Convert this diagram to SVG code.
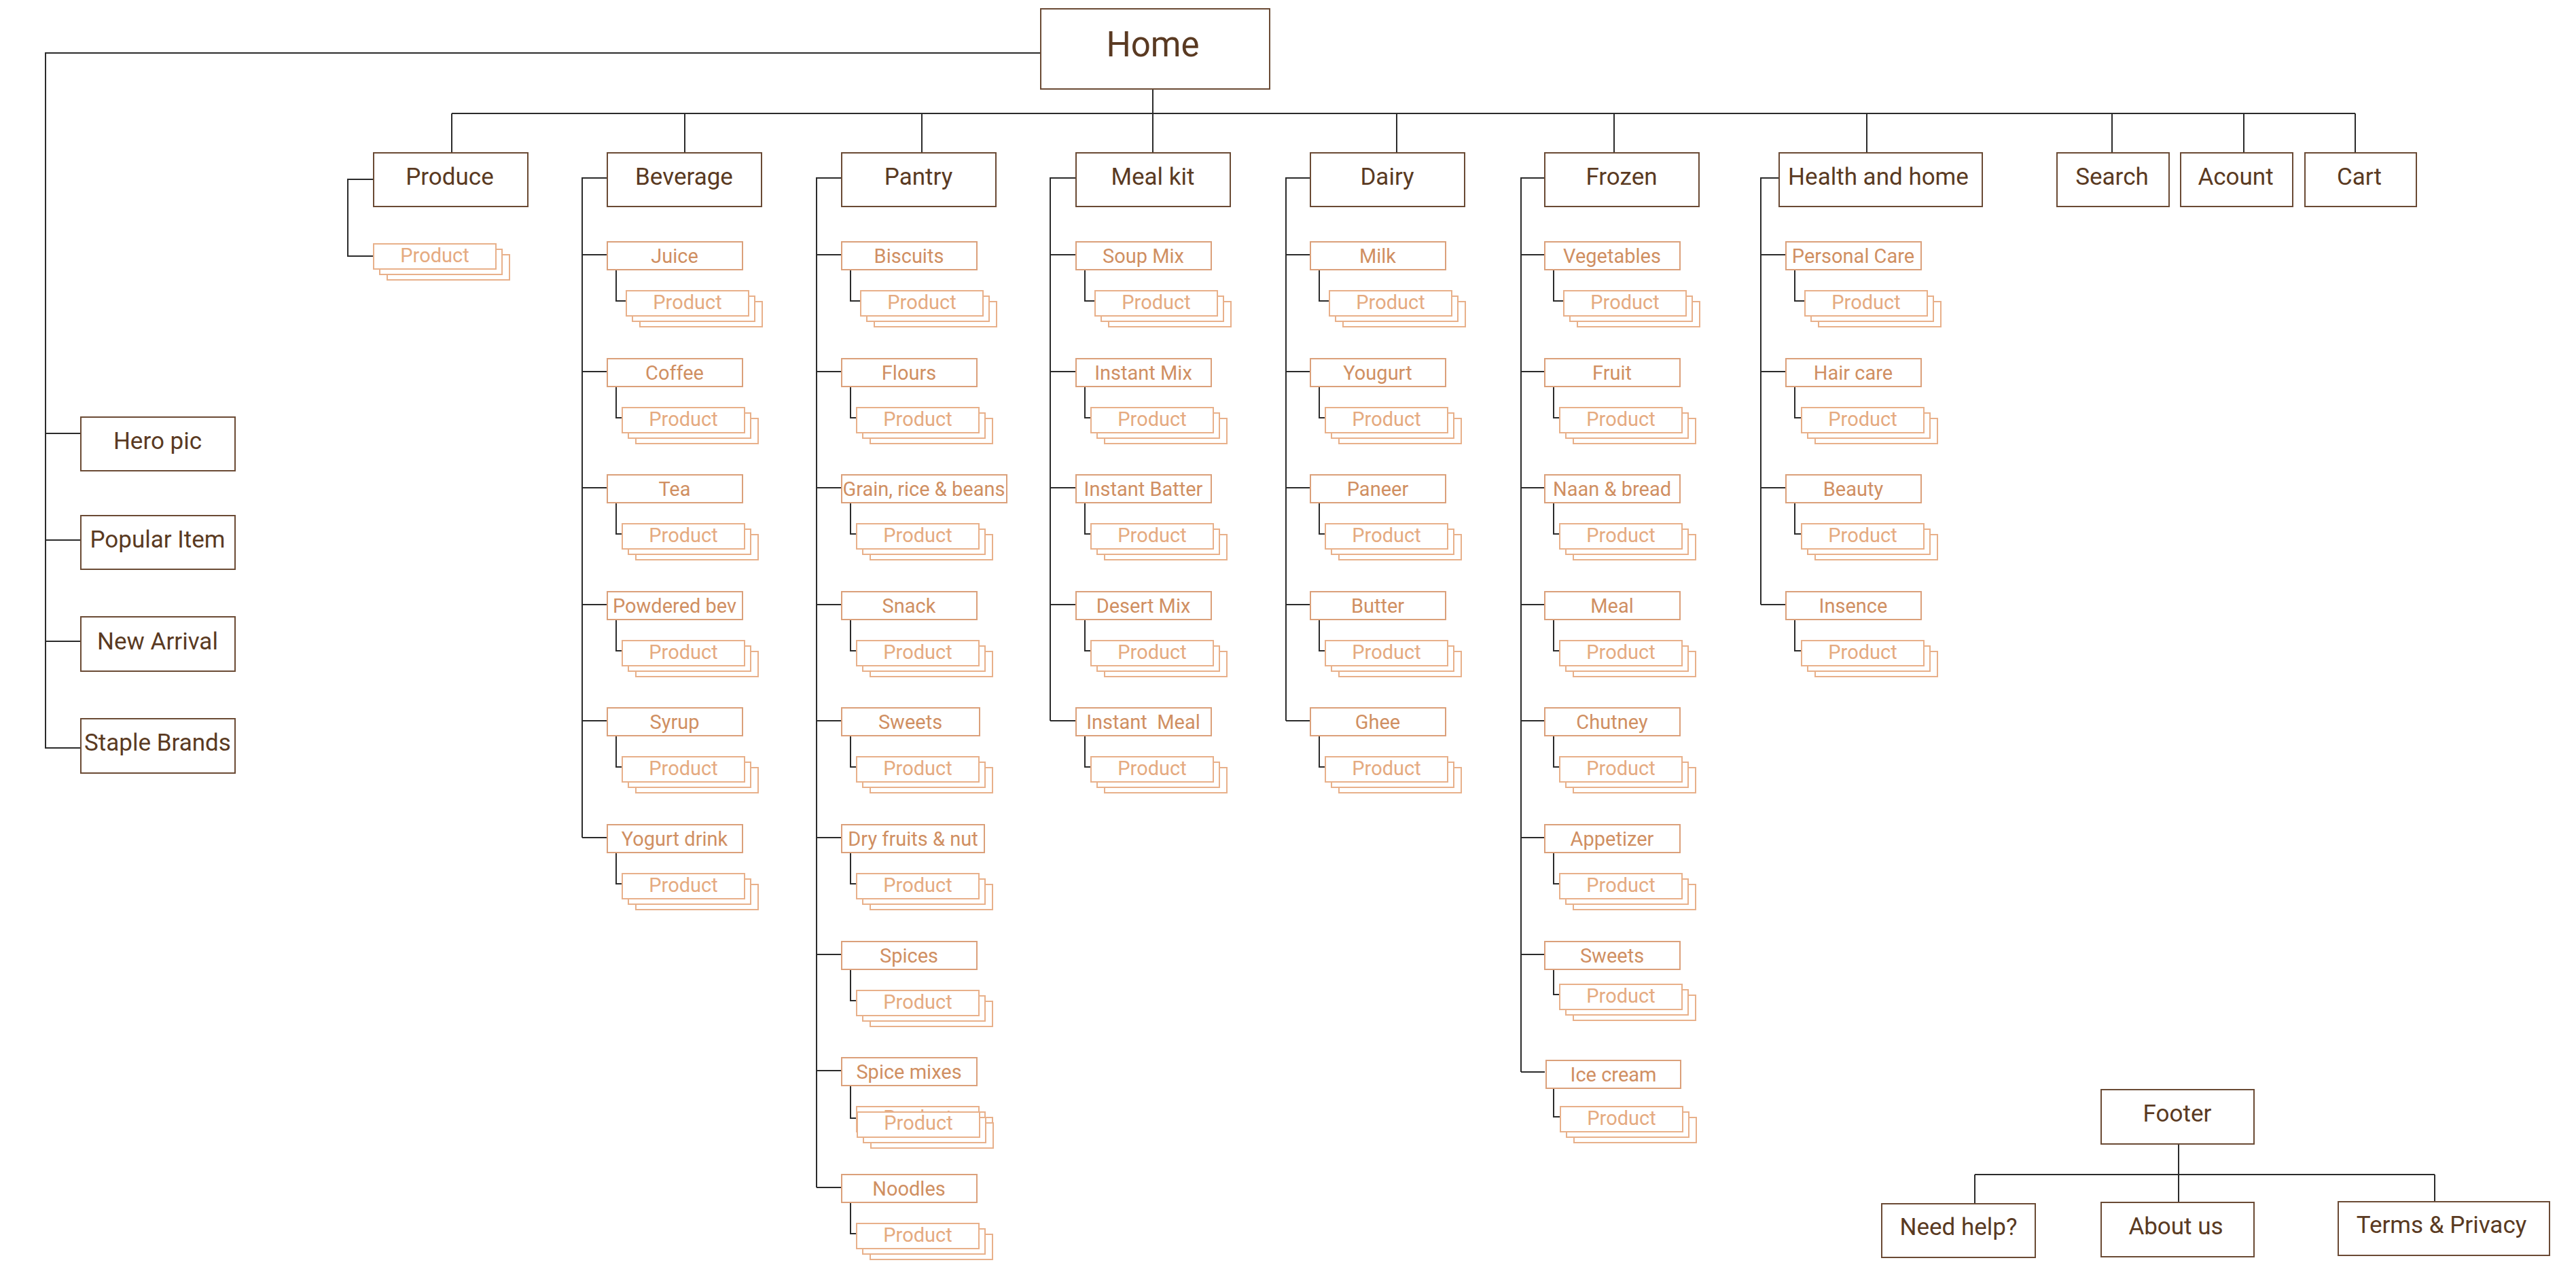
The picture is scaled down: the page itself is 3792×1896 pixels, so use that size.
<svg xmlns="http://www.w3.org/2000/svg" xmlns:xlink="http://www.w3.org/1999/xlink" width="3792" height="1896" viewBox="0 0 3792 1896">
<style>
text{font-family:Roboto,"Liberation Sans",sans-serif;text-anchor:middle}
.ln{stroke:#2b2b2b;stroke-width:2;fill:none}
.bx{fill:#fff;stroke:#6a4a34;stroke-width:2}
.tt{font-size:35px;fill:#5a3a22}
.ht{font-size:51px;fill:#5a3a22}
.sb{fill:#fff;stroke:#dba07a;stroke-width:2}
.st{font-size:29px;fill:#d08f62}
.pr{fill:#fff;stroke:#e8b08a;stroke-width:2}
.pt{font-size:29px;fill:#e5aa80}
</style>
<defs>
<g id="stk">
<rect class="pr" x="20" y="16" width="180" height="37"/>
<rect class="pr" x="9" y="8" width="180" height="37"/>
<rect class="pr" x="0" y="0" width="180" height="37"/>
</g>
</defs>
<rect width="3792" height="1896" fill="#fff"/>

<g id="connectors" class="ln">
<path d="M1532,78 H67 V1101 H119 M67,638 H119 M67,795 H119 M67,944 H119"/>
<path d="M1697,131 V225 M665,167 H3467 M665,167 V225 M1008,167 V225 M1357,167 V225 M2056,167 V225 M2376,167 V225 M2748,167 V225 M3109,167 V225 M3303,167 V225 M3467,167 V225"/>
<path d="M550,264 H512 V377 H550"/>
<path d="M894,262 H857 V1233 M857,375 H894 M857,547 H894 M857,718 H894 M857,890 H894 M857,1061 H894 M857,1233 H894"/>
<path d="M907,397 V443 H922 M907,569 V615 H916 M907,740 V786 H916 M907,912 V958 H916 M907,1083 V1129 H916 M907,1255 V1301 H916"/>
<path d="M1239,262 H1202 V1748 M1202,375 H1239 M1202,547 H1239 M1202,718 H1239 M1202,890 H1239 M1202,1061 H1239 M1202,1233 H1239 M1202,1405 H1239 M1202,1576 H1239 M1202,1748 H1239"/>
<path d="M1252,397 V443 H1267 M1252,569 V615 H1261 M1252,740 V786 H1261 M1252,912 V958 H1261 M1252,1083 V1129 H1261 M1252,1255 V1301 H1261 M1252,1427 V1473 H1261 M1252,1598 V1646 H1261 M1252,1770 V1816 H1261"/>
<path d="M1584,262 H1546 V1061 M1546,375 H1584 M1546,547 H1584 M1546,718 H1584 M1546,890 H1584 M1546,1061 H1584"/>
<path d="M1597,397 V443 H1612 M1597,569 V615 H1606 M1597,740 V786 H1606 M1597,912 V958 H1606 M1597,1083 V1129 H1606"/>
<path d="M1929,262 H1893 V1061 M1893,375 H1929 M1893,547 H1929 M1893,718 H1929 M1893,890 H1929 M1893,1061 H1929"/>
<path d="M1942,397 V443 H1957 M1942,569 V615 H1951 M1942,740 V786 H1951 M1942,912 V958 H1951 M1942,1083 V1129 H1951"/>
<path d="M2274,262 H2239 V1578 M2239,375 H2274 M2239,547 H2274 M2239,718 H2274 M2239,890 H2274 M2239,1061 H2274 M2239,1233 H2274 M2239,1405 H2274 M2239,1578 H2274"/>
<path d="M2287,397 V443 H2302 M2287,569 V615 H2296 M2287,740 V786 H2296 M2287,912 V958 H2296 M2287,1083 V1129 H2296 M2287,1255 V1301 H2296 M2287,1427 V1464 H2296 M2287,1602 V1644 H2296"/>
<path d="M2619,262 H2592 V890 M2592,375 H2629 M2592,547 H2629 M2592,718 H2629 M2592,890 H2629"/>
<path d="M2642,397 V443 H2657 M2642,569 V615 H2652 M2642,740 V786 H2652 M2642,912 V958 H2652"/>
<path d="M3207,1684 V1770 M2907,1729 H3584 M2907,1729 V1772 M3584,1729 V1769"/>
</g>

<g id="home"><rect class="bx" x="1532" y="13" width="337" height="118"/><text class="ht" x="1697" y="83">Home</text></g>

<g id="hero"><rect class="bx" x="119" y="614" width="227" height="79"/><text class="tt" x="232" y="661">Hero pic</text></g>
<g id="popular"><rect class="bx" x="119" y="759" width="227" height="79"/><text class="tt" x="232" y="806">Popular Item</text></g>
<g id="newarrival"><rect class="bx" x="119" y="908" width="227" height="80"/><text class="tt" x="232" y="956">New Arrival</text></g>
<g id="staple"><rect class="bx" x="119" y="1058" width="227" height="80"/><text class="tt" x="232" y="1105">Staple Brands</text></g>

<g id="produce"><rect class="bx" x="550" y="225" width="227" height="79"/><text class="tt" x="662" y="272">Produce</text></g>
<g id="produce-product"><use xlink:href="#stk" x="550" y="359"/><text class="pt" x="640" y="386">Product</text></g>

<g id="beverage"><rect class="bx" x="894" y="225" width="227" height="79"/><text class="tt" x="1007" y="272">Beverage</text></g>
<g id="pantry"><rect class="bx" x="1239" y="225" width="227" height="79"/><text class="tt" x="1352" y="272">Pantry</text></g>
<g id="mealkit"><rect class="bx" x="1584" y="225" width="227" height="79"/><text class="tt" x="1697" y="272">Meal kit</text></g>
<g id="dairy"><rect class="bx" x="1929" y="225" width="227" height="79"/><text class="tt" x="2042" y="272">Dairy</text></g>
<g id="frozen"><rect class="bx" x="2274" y="225" width="227" height="79"/><text class="tt" x="2387" y="272">Frozen</text></g>
<g id="health"><rect class="bx" x="2619" y="225" width="299" height="79"/><text class="tt" x="2765" y="272">Health and home</text></g>
<g id="search"><rect class="bx" x="3028" y="225" width="165" height="79"/><text class="tt" x="3109" y="272">Search</text></g>
<g id="acount"><rect class="bx" x="3210" y="225" width="165" height="79"/><text class="tt" x="3291" y="272">Acount</text></g>
<g id="cart"><rect class="bx" x="3393" y="225" width="164" height="79"/><text class="tt" x="3473" y="272">Cart</text></g>

<g id="beverage-items">
<g id="juice"><rect class="sb" x="894" y="356" width="199" height="41"/><text class="st" x="993" y="387">Juice</text><use xlink:href="#stk" x="922" y="428"/><text class="pt" x="1012" y="455">Product</text></g>
<g id="coffee"><rect class="sb" x="894" y="528" width="199" height="41"/><text class="st" x="993" y="559">Coffee</text><use xlink:href="#stk" x="916" y="600"/><text class="pt" x="1006" y="627">Product</text></g>
<g id="tea"><rect class="sb" x="894" y="699" width="199" height="41"/><text class="st" x="993" y="730">Tea</text><use xlink:href="#stk" x="916" y="771"/><text class="pt" x="1006" y="798">Product</text></g>
<g id="powdered"><rect class="sb" x="894" y="871" width="199" height="41"/><text class="st" x="993" y="902">Powdered bev</text><use xlink:href="#stk" x="916" y="943"/><text class="pt" x="1006" y="970">Product</text></g>
<g id="syrup"><rect class="sb" x="894" y="1042" width="199" height="41"/><text class="st" x="993" y="1073">Syrup</text><use xlink:href="#stk" x="916" y="1114"/><text class="pt" x="1006" y="1141">Product</text></g>
<g id="yogurtdrink"><rect class="sb" x="894" y="1214" width="199" height="41"/><text class="st" x="993" y="1245">Yogurt drink</text><use xlink:href="#stk" x="916" y="1286"/><text class="pt" x="1006" y="1313">Product</text></g>
</g>

<g id="pantry-items">
<g id="biscuits"><rect class="sb" x="1239" y="356" width="199" height="41"/><text class="st" x="1338" y="387">Biscuits</text><use xlink:href="#stk" x="1267" y="428"/><text class="pt" x="1357" y="455">Product</text></g>
<g id="flours"><rect class="sb" x="1239" y="528" width="199" height="41"/><text class="st" x="1338" y="559">Flours</text><use xlink:href="#stk" x="1261" y="600"/><text class="pt" x="1351" y="627">Product</text></g>
<g id="grain"><rect class="sb" x="1239" y="699" width="243" height="41"/><text class="st" x="1360" y="730">Grain, rice &amp; beans</text><use xlink:href="#stk" x="1261" y="771"/><text class="pt" x="1351" y="798">Product</text></g>
<g id="snack"><rect class="sb" x="1239" y="871" width="199" height="41"/><text class="st" x="1338" y="902">Snack</text><use xlink:href="#stk" x="1261" y="943"/><text class="pt" x="1351" y="970">Product</text></g>
<g id="sweets-p"><rect class="sb" x="1239" y="1042" width="203" height="41"/><text class="st" x="1340" y="1073">Sweets</text><use xlink:href="#stk" x="1261" y="1114"/><text class="pt" x="1351" y="1141">Product</text></g>
<g id="dryfruits"><rect class="sb" x="1239" y="1214" width="210" height="41"/><text class="st" x="1344" y="1245">Dry fruits &amp; nut</text><use xlink:href="#stk" x="1261" y="1286"/><text class="pt" x="1351" y="1313">Product</text></g>
<g id="spices"><rect class="sb" x="1239" y="1386" width="199" height="41"/><text class="st" x="1338" y="1417">Spices</text><use xlink:href="#stk" x="1261" y="1458"/><text class="pt" x="1351" y="1485">Product</text></g>
<g id="spicemixes"><rect class="sb" x="1239" y="1557" width="199" height="41"/><text class="st" x="1338" y="1588">Spice mixes</text><use xlink:href="#stk" x="1261" y="1629"/><text class="pt" x="1351" y="1655">Product</text><use xlink:href="#stk" x="1262" y="1637"/><text class="pt" x="1352" y="1663">Product</text></g>
<g id="noodles"><rect class="sb" x="1239" y="1729" width="199" height="41"/><text class="st" x="1338" y="1760">Noodles</text><use xlink:href="#stk" x="1261" y="1801"/><text class="pt" x="1351" y="1828">Product</text></g>
</g>

<g id="mealkit-items">
<g id="soupmix"><rect class="sb" x="1584" y="356" width="199" height="41"/><text class="st" x="1683" y="387">Soup Mix</text><use xlink:href="#stk" x="1612" y="428"/><text class="pt" x="1702" y="455">Product</text></g>
<g id="instantmix"><rect class="sb" x="1584" y="528" width="199" height="41"/><text class="st" x="1683" y="559">Instant Mix</text><use xlink:href="#stk" x="1606" y="600"/><text class="pt" x="1696" y="627">Product</text></g>
<g id="instantbatter"><rect class="sb" x="1584" y="699" width="199" height="41"/><text class="st" x="1683" y="730">Instant Batter</text><use xlink:href="#stk" x="1606" y="771"/><text class="pt" x="1696" y="798">Product</text></g>
<g id="desertmix"><rect class="sb" x="1584" y="871" width="199" height="41"/><text class="st" x="1683" y="902">Desert Mix</text><use xlink:href="#stk" x="1606" y="943"/><text class="pt" x="1696" y="970">Product</text></g>
<g id="instantmeal"><rect class="sb" x="1584" y="1042" width="199" height="41"/><text class="st" x="1683" y="1073" style="white-space:pre">Instant  Meal</text><use xlink:href="#stk" x="1606" y="1114"/><text class="pt" x="1696" y="1141">Product</text></g>
</g>

<g id="dairy-items">
<g id="milk"><rect class="sb" x="1929" y="356" width="199" height="41"/><text class="st" x="2028" y="387">Milk</text><use xlink:href="#stk" x="1957" y="428"/><text class="pt" x="2047" y="455">Product</text></g>
<g id="yougurt"><rect class="sb" x="1929" y="528" width="199" height="41"/><text class="st" x="2028" y="559">Yougurt</text><use xlink:href="#stk" x="1951" y="600"/><text class="pt" x="2041" y="627">Product</text></g>
<g id="paneer"><rect class="sb" x="1929" y="699" width="199" height="41"/><text class="st" x="2028" y="730">Paneer</text><use xlink:href="#stk" x="1951" y="771"/><text class="pt" x="2041" y="798">Product</text></g>
<g id="butter"><rect class="sb" x="1929" y="871" width="199" height="41"/><text class="st" x="2028" y="902">Butter</text><use xlink:href="#stk" x="1951" y="943"/><text class="pt" x="2041" y="970">Product</text></g>
<g id="ghee"><rect class="sb" x="1929" y="1042" width="199" height="41"/><text class="st" x="2028" y="1073">Ghee</text><use xlink:href="#stk" x="1951" y="1114"/><text class="pt" x="2041" y="1141">Product</text></g>
</g>

<g id="frozen-items">
<g id="vegetables"><rect class="sb" x="2274" y="356" width="199" height="41"/><text class="st" x="2373" y="387">Vegetables</text><use xlink:href="#stk" x="2302" y="428"/><text class="pt" x="2392" y="455">Product</text></g>
<g id="fruit"><rect class="sb" x="2274" y="528" width="199" height="41"/><text class="st" x="2373" y="559">Fruit</text><use xlink:href="#stk" x="2296" y="600"/><text class="pt" x="2386" y="627">Product</text></g>
<g id="naan"><rect class="sb" x="2274" y="699" width="199" height="41"/><text class="st" x="2373" y="730">Naan &amp; bread</text><use xlink:href="#stk" x="2296" y="771"/><text class="pt" x="2386" y="798">Product</text></g>
<g id="meal"><rect class="sb" x="2274" y="871" width="199" height="41"/><text class="st" x="2373" y="902">Meal</text><use xlink:href="#stk" x="2296" y="943"/><text class="pt" x="2386" y="970">Product</text></g>
<g id="chutney"><rect class="sb" x="2274" y="1042" width="199" height="41"/><text class="st" x="2373" y="1073">Chutney</text><use xlink:href="#stk" x="2296" y="1114"/><text class="pt" x="2386" y="1141">Product</text></g>
<g id="appetizer"><rect class="sb" x="2274" y="1214" width="199" height="41"/><text class="st" x="2373" y="1245">Appetizer</text><use xlink:href="#stk" x="2296" y="1286"/><text class="pt" x="2386" y="1313">Product</text></g>
<g id="sweets-f"><rect class="sb" x="2274" y="1386" width="199" height="41"/><text class="st" x="2373" y="1417">Sweets</text><use xlink:href="#stk" x="2296" y="1449"/><text class="pt" x="2386" y="1476">Product</text></g>
<g id="icecream"><rect class="sb" x="2276" y="1561" width="198" height="41"/><text class="st" x="2375" y="1592">Ice cream</text><use xlink:href="#stk" x="2297" y="1629"/><text class="pt" x="2387" y="1656">Product</text></g>
</g>

<g id="health-items">
<g id="personalcare"><rect class="sb" x="2629" y="356" width="199" height="41"/><text class="st" x="2728" y="387">Personal Care</text><use xlink:href="#stk" x="2657" y="428"/><text class="pt" x="2747" y="455">Product</text></g>
<g id="haircare"><rect class="sb" x="2629" y="528" width="199" height="41"/><text class="st" x="2728" y="559">Hair care</text><use xlink:href="#stk" x="2652" y="600"/><text class="pt" x="2742" y="627">Product</text></g>
<g id="beauty"><rect class="sb" x="2629" y="699" width="199" height="41"/><text class="st" x="2728" y="730">Beauty</text><use xlink:href="#stk" x="2652" y="771"/><text class="pt" x="2742" y="798">Product</text></g>
<g id="insence"><rect class="sb" x="2629" y="871" width="199" height="41"/><text class="st" x="2728" y="902">Insence</text><use xlink:href="#stk" x="2652" y="943"/><text class="pt" x="2742" y="970">Product</text></g>
</g>

<g id="footer"><rect class="bx" x="3093" y="1604" width="225" height="80"/><text class="tt" x="3205" y="1651">Footer</text></g>
<g id="needhelp"><rect class="bx" x="2770" y="1772" width="226" height="79"/><text class="tt" x="2883" y="1818">Need help?</text></g>
<g id="aboutus"><rect class="bx" x="3093" y="1770" width="225" height="80"/><text class="tt" x="3203" y="1817">About us</text></g>
<g id="terms"><rect class="bx" x="3442" y="1769" width="311" height="79"/><text class="tt" x="3594" y="1815">Terms &amp; Privacy</text></g>
</svg>
